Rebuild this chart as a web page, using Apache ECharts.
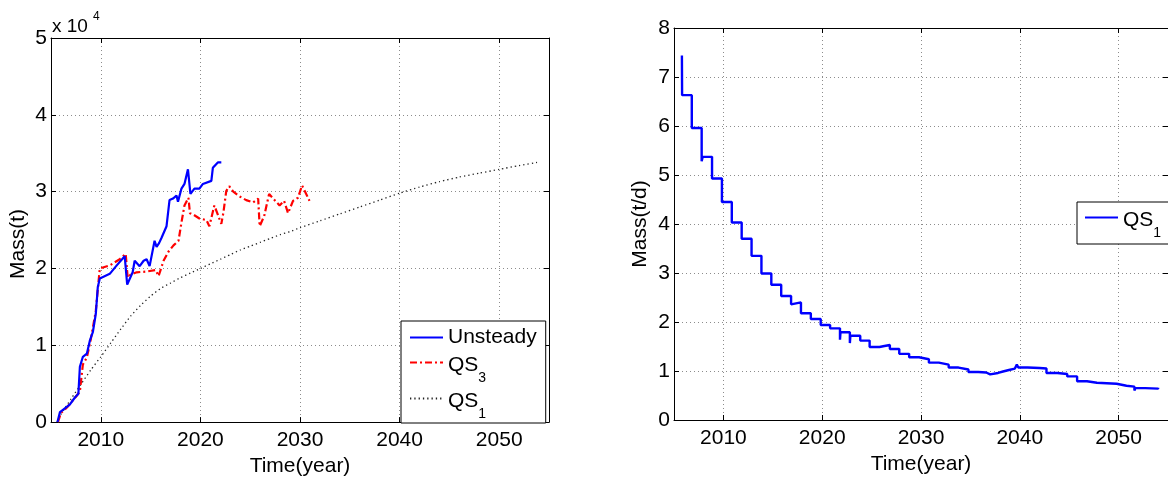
<!DOCTYPE html>
<html>
<head>
<meta charset="utf-8">
<script src="https://cdn.jsdelivr.net/npm/echarts@6/dist/echarts.min.js"></script>
<style>html,body{margin:0;padding:0;background:#fff;}#c{width:1168px;height:482px;}</style>
</head>
<body>
<div id="c"></div>
<script>
// ---- Left panel: accumulated mass (t) ----
const unsteadyYears = [2005.65,2005.9,2006.2,2006.9,2007.4,2007.75,2007.9,2008.2,2008.6,2008.9,2009.2,2009.5,2009.7,2009.9,2010.9,2011.6,2012.4,2012.6,2012.65,2013.2,2013.4,2013.9,2014.3,2014.6,2014.9,2015.4,2015.6,2015.85,2016.1,2016.6,2016.75,2016.9,2017.25,2017.6,2017.75,2018.1,2018.4,2018.75,2019.0,2019.4,2019.9,2020.25,2021.1,2021.25,2021.75,2022.1];
const unsteadyMass = [0,1300,1600,2300,3200,3700,7200,8500,8900,10600,11700,14100,17600,18700,19300,20400,21600,21500,17900,19500,21000,20300,21000,21200,20300,23600,22800,23300,24000,25500,27200,28900,29100,29500,28700,30400,31000,32900,29700,30400,30400,31000,31400,33100,33800,33800];

const qs3Years = [2005.7,2006.0,2006.6,2007.5,2007.9,2008.2,2008.6,2009.0,2009.3,2009.5,2009.75,2009.9,2010.9,2011.9,2012.5,2012.7,2013.0,2013.6,2014.6,2015.5,2015.8,2016.3,2016.8,2017.3,2017.8,2018.1,2018.4,2018.8,2018.95,2019.3,2019.9,2020.6,2020.9,2021.4,2021.75,2022.1,2022.3,2022.6,2022.9,2023.3,2023.9,2024.6,2025.3,2025.8,2025.95,2026.4,2026.9,2027.45,2027.95,2028.4,2028.8,2029.3,2029.8,2030.2,2030.55,2030.95];
const qs3Mass = [0,1200,1900,3300,4000,7500,8400,10800,13000,14500,18000,20000,20400,21200,21900,18800,19200,19500,19600,19800,19000,21000,22200,23000,23600,26000,28200,29200,27200,27000,26500,26300,25500,28200,27000,25800,27200,30100,30700,30000,29400,28900,28600,29100,25500,26800,29700,28900,28200,28800,27200,28800,29200,30800,29900,28800];

const qs1LeftYears = [2005.6,2006,2007,2008,2009,2010,2011,2012,2013,2014,2015,2016,2017,2018,2019,2020,2021,2022,2023,2024,2025,2026,2027,2028,2029,2030,2032,2034,2036,2038,2040,2042,2044,2046,2048,2050,2052,2053.8];
const qs1LeftMass = [0,1000,3000,4900,6800,8500,10300,12100,13800,15200,16400,17400,18100,18800,19400,20000,20600,21200,21800,22400,22900,23400,23900,24400,24800,25300,26200,27100,28000,28900,29800,30600,31300,31900,32400,32900,33400,33800];

// ---- Right panel: mass rate (t/d), step line ----
const qs1RightYears = [2005.8,2005.82,2006.8,2007.8,2007.9,2008.85,2009.85,2010.85,2011.85,2012.85,2013.85,2014.85,2015.85,2016.85,2016.95,2017.85,2018.85,2019.85,2020.8,2021.8,2021.85,2022.8,2022.85,2023.85,2024.8,2025.8,2026.3,2026.85,2027.8,2028.8,2029.8,2030.8,2031.8,2032.8,2033.8,2034.8,2035.8,2036.6,2036.75,2037.0,2037.8,2038.3,2038.9,2039.5,2039.7,2039.85,2040.8,2042.0,2042.7,2043.8,2044.8,2045.8,2046.8,2047.8,2049.8,2050.8,2051.6,2051.7,2052.7,2054.0];
const qs1RightRate = [7.44,6.63,5.96,5.28,5.37,4.93,4.45,4.03,3.70,3.35,2.99,2.76,2.53,2.36,2.40,2.18,2.06,1.94,1.87,1.64,1.79,1.57,1.72,1.62,1.49,1.51,1.53,1.45,1.35,1.28,1.24,1.17,1.13,1.07,1.03,0.98,0.97,0.99,0.93,0.96,0.99,1.02,1.05,1.08,1.13,1.07,1.06,1.05,0.96,0.94,0.89,0.79,0.76,0.74,0.70,0.68,0.60,0.65,0.64,0.66];

const legendLeft = ['Unsteady','QS3','QS1'];
const legendRight = ['QS1 '];

const FONT = "'Liberation Sans', Arial, Helvetica, sans-serif";
const zip = (xs, ys) => xs.map((x, i) => [x, ys[i]]);

function xAxes(grid, name) {
  const base = {
    gridIndex: grid, type: 'value', min: 2005, max: 2055, splitNumber: 5,
    axisLine: {show: true, onZero: false, lineStyle: {color: '#000', width: 1}},
    axisTick: {show: true, inside: true, length: 5, lineStyle: {color: '#000'}},
  };
  return [
    Object.assign({}, base, {
      position: 'bottom', name: name, nameLocation: 'middle', nameGap: 26,
      nameTextStyle: {fontFamily: FONT, fontSize: 21, color: '#000'},
      axisLabel: {show: true, showMinLabel: false, showMaxLabel: false, margin: 8,
        fontFamily: FONT, fontSize: 21, color: '#000', formatter: v => String(v)},
      splitLine: {show: true, showMinLine: false, showMaxLine: false,
        lineStyle: {color: '#8c8c8c', width: 1, type: [1, 3]}}
    }),
    Object.assign({}, base, {
      position: 'top', axisLabel: {show: false}, splitLine: {show: false}
    })
  ];
}

function yAxes(grid, max, name, fmt) {
  const base = {
    gridIndex: grid, type: 'value', min: 0, max: max, interval: max / (grid === 0 ? 5 : 8),
    axisLine: {show: true, onZero: false, lineStyle: {color: '#000', width: 1}},
    axisTick: {show: true, inside: true, length: 5, lineStyle: {color: '#000'}},
  };
  return [
    Object.assign({}, base, {
      position: 'left', name: name, nameLocation: 'middle', nameGap: 23, nameRotate: 90,
      nameTextStyle: {fontFamily: FONT, fontSize: 21, color: '#000'},
      axisLabel: {show: true, margin: 4, fontFamily: FONT, fontSize: 21, color: '#000', formatter: fmt},
      splitLine: {show: true, showMinLine: false, showMaxLine: false,
        lineStyle: {color: '#8c8c8c', width: 1, type: [1, 3]}}
    }),
    Object.assign({}, base, {
      position: 'right', axisLabel: {show: false}, splitLine: {show: false}
    })
  ];
}

const legendText = {
  fontFamily: FONT, fontSize: 21, color: '#000',
  rich: {
    u: {fontFamily: FONT, fontSize: 21, lineHeight: 23, color: '#000', padding: [1, 0, 1, 0]},
    m: {fontFamily: FONT, fontSize: 21, lineHeight: 23, color: '#000', padding: [4, 0, 0, 0], verticalAlign: 'top'},
    s: {fontFamily: FONT, fontSize: 14, lineHeight: 14, color: '#000', padding: [20, 0, 0, 0], verticalAlign: 'top'}
  }
};
const legendFmt = n => n.startsWith('QS') ? '{m|QS}{s|' + n.charAt(2) + '}' : '{u|' + n + '}';
const legendCommon = {
  orient: 'vertical', itemWidth: 33, itemHeight: 14, itemGap: 2,
  borderColor: '#000', borderWidth: 1, borderRadius: 0, backgroundColor: '#fff',
  selectedMode: false, textStyle: legendText, formatter: legendFmt,
  itemStyle: {opacity: 0, borderWidth: 0}
};

const option = {
  animation: false,
  backgroundColor: '#fff',
  grid: [
    {left: 51, top: 38, right: 619, bottom: 52, containLabel: false},
    {left: 674, top: 28, right: -4, bottom: 62, containLabel: false}
  ],
  xAxis: [].concat(xAxes(0, 'Time(year)'), xAxes(1, 'Time(year)')),
  yAxis: [].concat(
    yAxes(0, 50000, '', v => String(v / 10000)),
    yAxes(1, 8, 'Mass(t/d)', v => String(v))
  ),
  legend: [
    Object.assign({}, legendCommon, {left: 401, top: 321, data: legendLeft, padding: [5, 9, 2, 8]}),
    Object.assign({}, legendCommon, {left: 1077, top: 202, data: legendRight, padding: [4, 9, 4, 7]})
  ],
  graphic: [
    {type: 'text', x: 52, y: 27, silent: true,
      style: {text: 'x 10', font: '19px ' + FONT, fill: '#000', verticalAlign: 'middle', align: 'left'}},
    {type: 'text', x: 93, y: 17, silent: true,
      style: {text: '4', font: '12px ' + FONT, fill: '#000', verticalAlign: 'middle', align: 'left'}},
    {type: 'text', x: 18, y: 244, rotation: Math.PI / 2, silent: true,
      style: {text: 'Mass(t)', font: '21px ' + FONT, fill: '#000', verticalAlign: 'middle', align: 'center'}}
  ],
  series: [
    {
      name: 'Unsteady', type: 'line', xAxisIndex: 0, yAxisIndex: 0,
      data: zip(unsteadyYears, unsteadyMass), symbol: 'none', showSymbol: false,
      lineStyle: {color: '#0000ff', width: 2.2}, itemStyle: {color: '#0000ff'}, z: 3
    },
    {
      name: 'QS3', type: 'line', xAxisIndex: 0, yAxisIndex: 0,
      data: zip(qs3Years, qs3Mass), symbol: 'none', showSymbol: false,
      lineStyle: {color: '#ff0000', width: 2.2, type: [7, 3, 2, 3]}, itemStyle: {color: '#ff0000'}, z: 2
    },
    {
      name: 'QS1', type: 'line', xAxisIndex: 0, yAxisIndex: 0,
      data: zip(qs1LeftYears, qs1LeftMass), symbol: 'none', showSymbol: false, smooth: 0.2,
      lineStyle: {color: '#222', width: 1.3, type: [1.3, 3]}, itemStyle: {color: '#222'}, z: 1
    },
    {
      name: 'QS1 ', type: 'line', xAxisIndex: 2, yAxisIndex: 2, step: 'end',
      data: zip(qs1RightYears, qs1RightRate), symbol: 'none', showSymbol: false,
      lineStyle: {color: '#0000ff', width: 2.4}, itemStyle: {color: '#0000ff'}
    }
  ]
};

const chart = echarts.init(document.getElementById('c'), null, {renderer: 'canvas'});
chart.setOption(option);
</script>
</body>
</html>
